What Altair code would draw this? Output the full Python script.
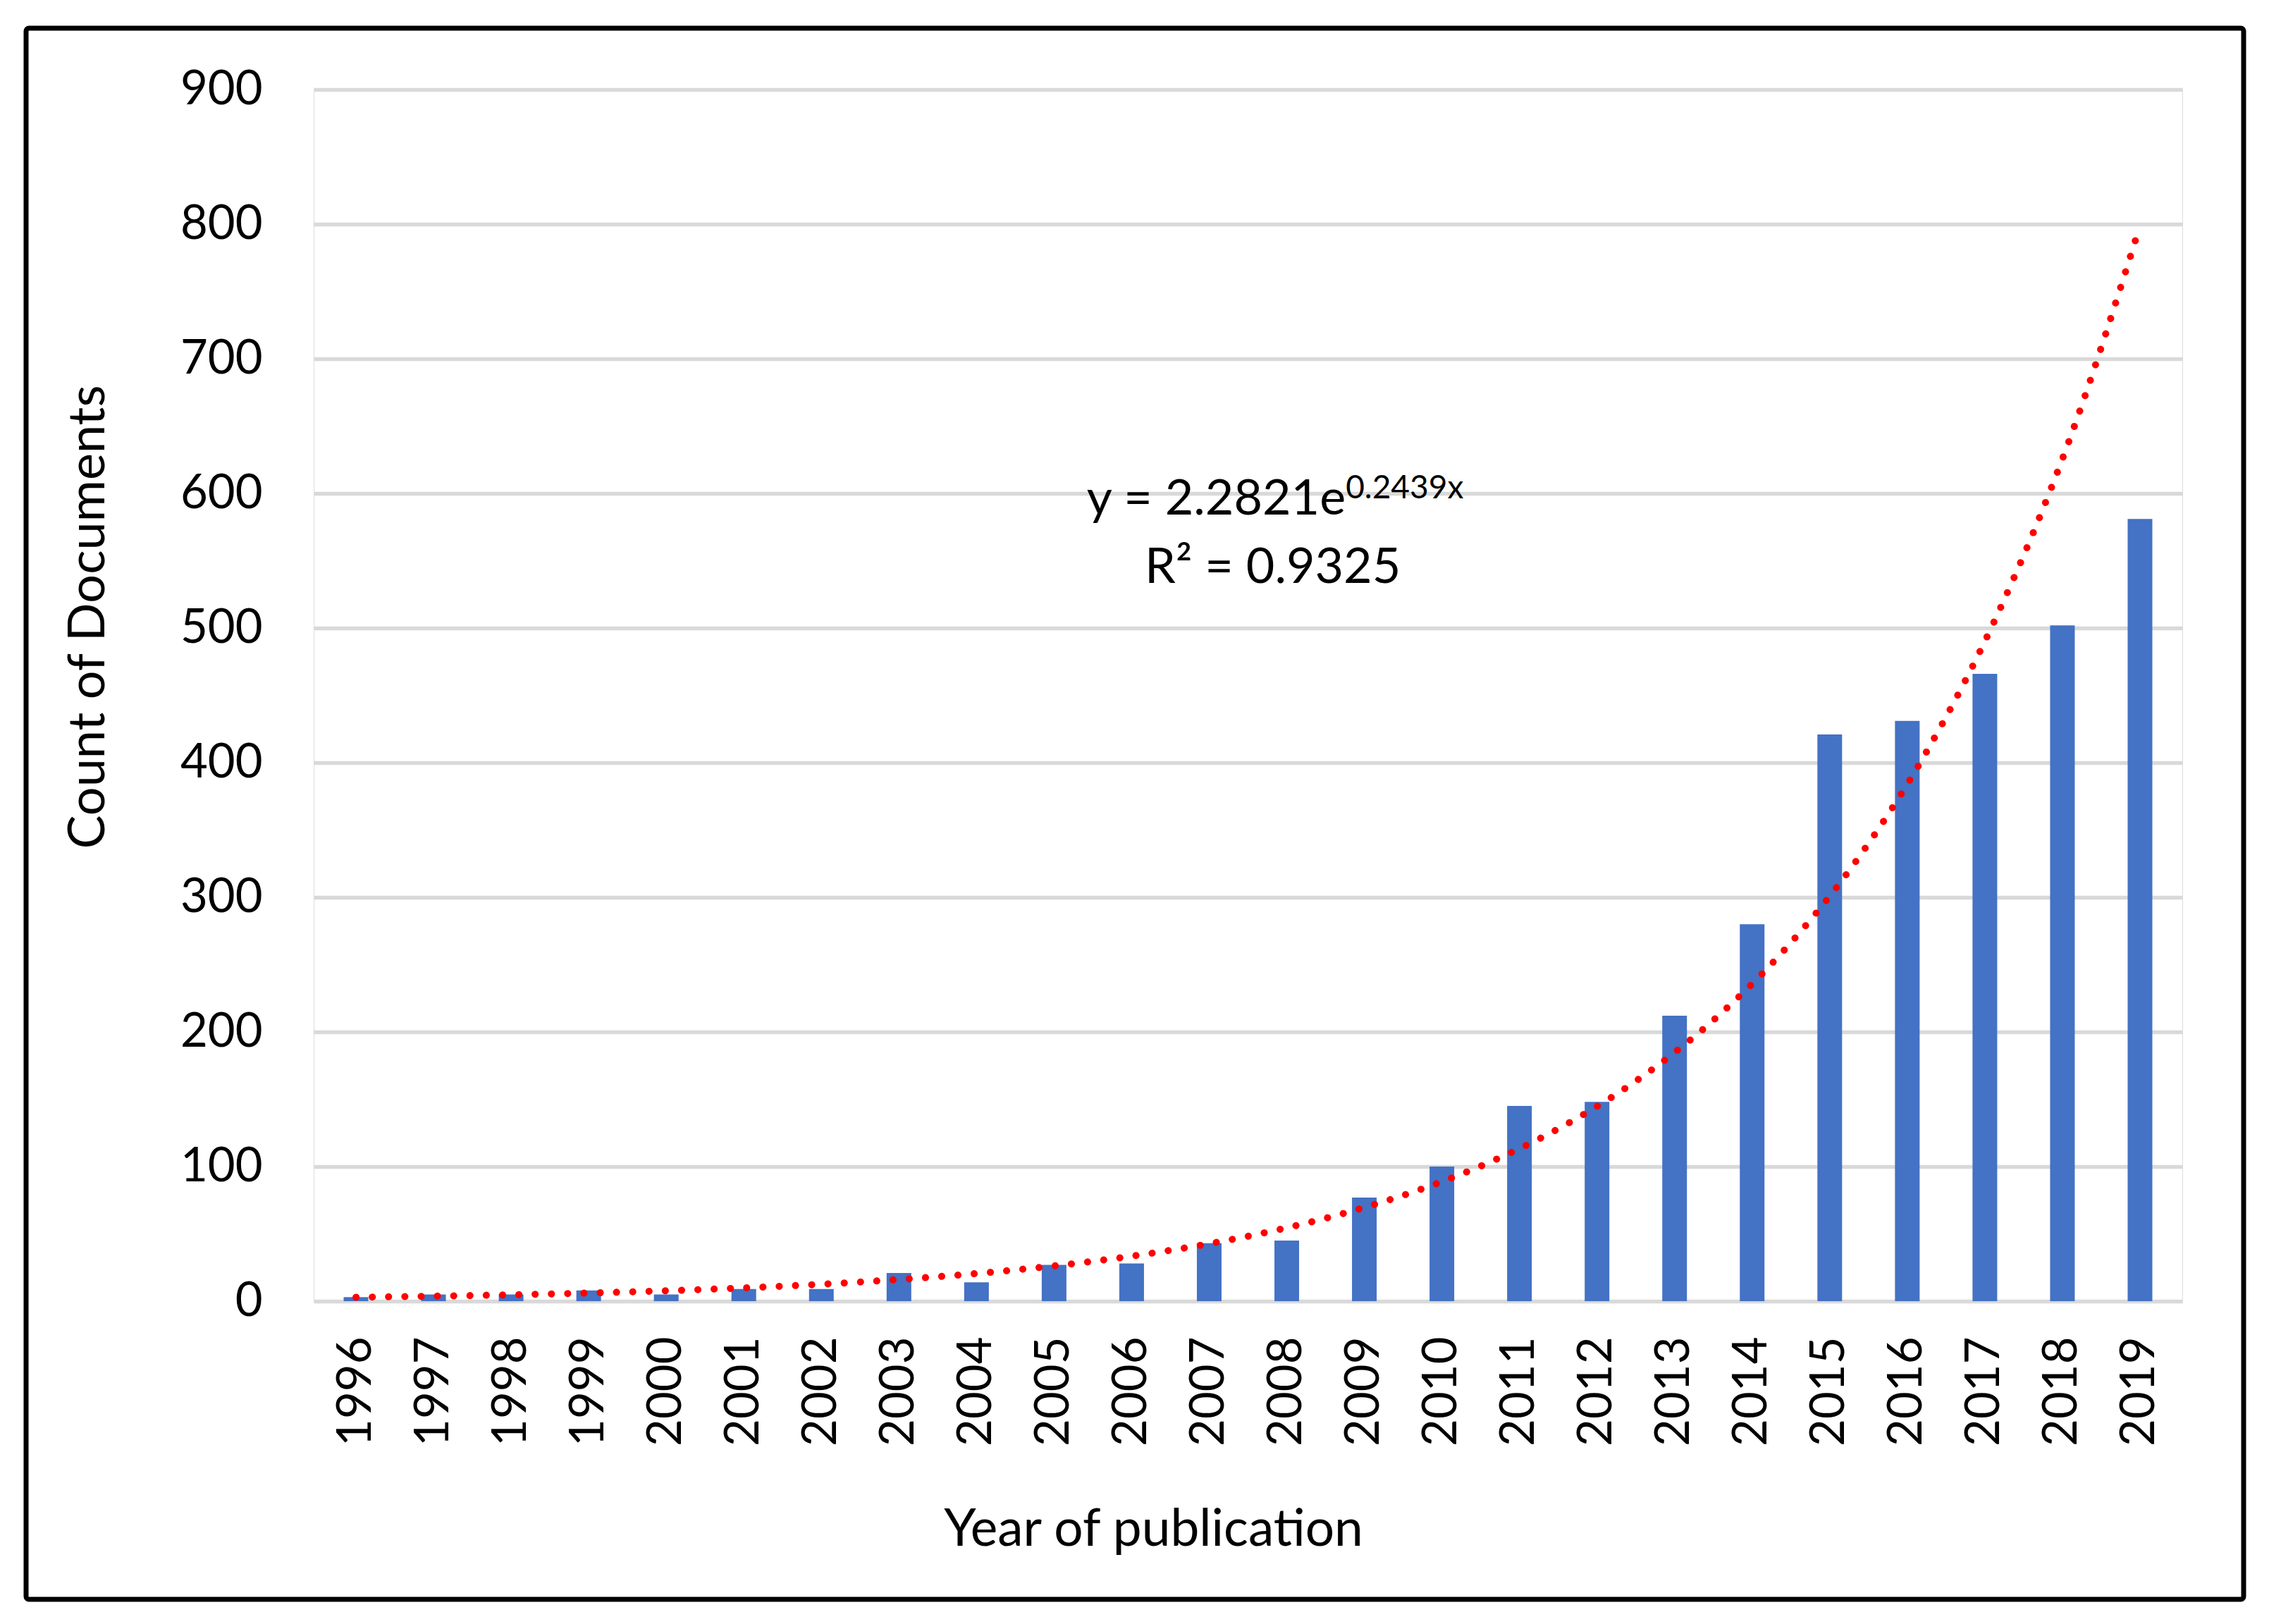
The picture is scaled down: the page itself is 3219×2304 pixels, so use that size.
import altair as alt
import pandas as pd

# ---- data ----
years = list(range(1996, 2020))
counts = [3, 5, 5, 8, 5, 9, 9, 21, 14, 27, 28, 43, 45, 77, 100, 145, 148, 212,
          280, 421, 431, 466, 502, 581]
y_ticks = [0, 100, 200, 300, 400, 500, 600, 700, 800, 900]
x_title = "Year of publication"
y_title = "Count of Documents"
eq_main = "y = 2.2821e"
eq_exp = "0.2439x"
eq_r2 = "R\u00b2 = 0.9325"

# ---- layout / style ----
W, H = 2651, 1719
FONT = "Lato"
BAR = "#4472C4"
GRID = "#D9D9D9"

df = pd.DataFrame({"year": years, "count": counts})

x_scale = alt.Scale(domain=[1995.5, 2019.5], nice=False, zero=False)
y_scale = alt.Scale(domain=[0, 900], nice=False)

x_axis = alt.Axis(
    values=years, format="d", labelAngle=-90, labelPadding=50,
    labelFontSize=67, labelFont=FONT, labelColor="black",
    labelFlush=False, labelOverlap=False,
    grid=False, domain=False, ticks=False,
    title=x_title, titleFont=FONT, titleFontSize=73, titleFontWeight="normal",
    titleColor="black", titleX=1191, titleY=346, titleBaseline="alphabetic",
    titleAlign="center",
)
y_axis = alt.Axis(
    values=y_ticks, labelFontSize=67, labelFont=FONT, labelColor="black",
    labelPadding=73, grid=True, gridColor=GRID, gridWidth=5.5,
    domain=False, ticks=False,
    title=y_title, titleFont=FONT, titleFontSize=72, titleFontWeight="normal",
    titleColor="black", titleAngle=-90, titleX=-298, titleY=748,
    titleBaseline="alphabetic", titleAlign="center",
)

bars = alt.Chart(df).mark_bar(size=35, color=BAR).encode(
    x=alt.X("year:Q", scale=x_scale, axis=x_axis, title=x_title),
    y=alt.Y("count:Q", scale=y_scale, axis=y_axis, title=y_title),
)

# exponential trendline: least squares on ln(count), like the spreadsheet
trend = (
    alt.Chart(df)
    .transform_calculate(ly="log(datum.count)")
    .transform_regression("year", "ly", method="poly", order=1)
    .transform_calculate(fit="exp(datum.ly)")
    .mark_line(color="#FF0000", strokeWidth=10, strokeDash=[0.1, 23],
               strokeCap="round", interpolate="monotone")
    .encode(
        x=alt.X("year:Q", scale=x_scale, title=x_title),
        y=alt.Y("fit:Q", scale=y_scale, title=y_title),
    )
)

one = alt.Data(values=[{}])
t_main = alt.Chart(one).mark_text(
    align="right", baseline="alphabetic", fontSize=70, font=FONT, color="black"
).encode(x=alt.datum(2008.76), y=alt.datum(584.3), text=alt.value(eq_main))
t_exp = alt.Chart(one).mark_text(
    align="left", baseline="alphabetic", fontSize=46, font=FONT, color="black"
).encode(x=alt.datum(2008.76), y=alt.datum(596.3), text=alt.value(eq_exp))
t_r2 = alt.Chart(one).mark_text(
    align="center", baseline="alphabetic", fontSize=70, font=FONT, color="black"
).encode(x=alt.datum(2007.82), y=alt.datum(533.5), text=alt.value(eq_r2))

border = alt.Chart(one).mark_rect(
    filled=False, stroke="black", strokeWidth=7, cornerRadius=4
).encode(
    x=alt.value(-408), x2=alt.value(W + 87),
    y=alt.value(-87), y2=alt.value(H + 423),
)

chart = (
    alt.layer(bars, trend, t_main, t_exp, t_r2, border)
    .properties(
        width=W, height=H,
        autosize=alt.AutoSizeParams(type="none"),
        padding={"left": 437, "top": 119, "right": 100, "bottom": 440},
        background="white",
    )
    .configure_view(stroke=None)
    .configure(font=FONT)
)

chart.save("out.html", embed_options={"renderer": "svg", "actions": False})
